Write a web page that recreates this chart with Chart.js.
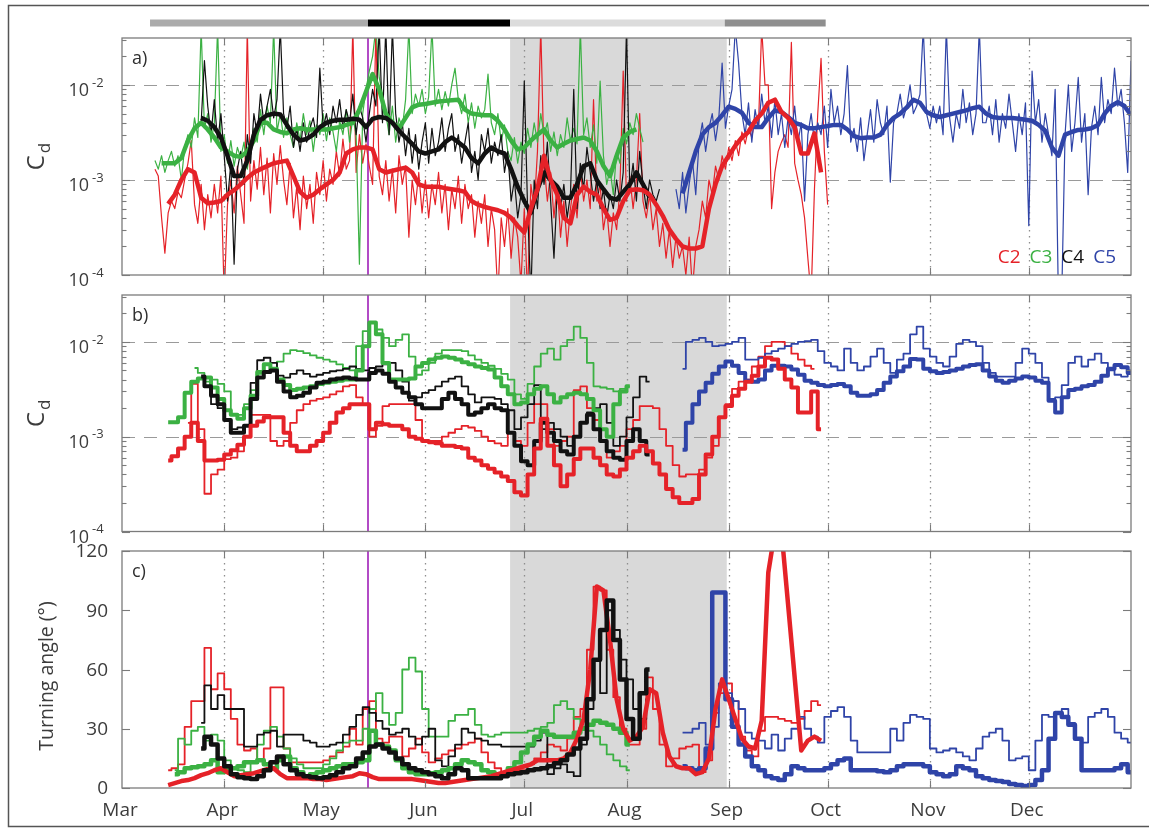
<!DOCTYPE html>
<html>
<head>
<meta charset="utf-8">
<title>Drag coefficient and turning angle, C2–C5</title>
<script src="https://cdn.jsdelivr.net/npm/chart.js@4.4.1/dist/chart.umd.min.js"></script>
<style>
  html, body { margin: 0; padding: 0; background: #ffffff; }
  #wrap { position: relative; width: 1149px; height: 828px; overflow: hidden; background: #ffffff; }
  #wrap canvas { position: absolute; left: 0; top: 0; }
</style>
</head>
<body>
<div id="wrap">
  <canvas id="panelA" width="1149" height="828"></canvas>
  <canvas id="panelB" width="1149" height="828"></canvas>
  <canvas id="panelC" width="1149" height="828"></canvas>
</div>
<script>
// ---------- calendar (x = days after 1 March) ----------
const monthNames = ['Mar', 'Apr', 'May', 'Jun', 'Jul', 'Aug', 'Sep', 'Oct', 'Nov', 'Dec'];
const monthStartDays = [0, 31, 61, 92, 122, 153, 184, 214, 245, 275];
const yearEndDay = 306;

// deployment periods shown as the bar above the panels
const periodBreakDays = [8.5, 74.6, 117.7, 182.8, 213.4];
const periodColors = ['#ababab', '#000000', '#dcdcdc', '#8f8f8f'];
// shaded interval and marker line
const shadedDays = [117.7, 183.4];
const markerDay = 74.6;

// axis ticks
const cdDecades = [-4, -3, -2];
const cdMax = 3.12e-2;
const angleTicks = [0, 30, 60, 90, 120];
const siteNames = ['C2', 'C3', 'C4', 'C5'];

// ---------- panel a: C_d (values in units of 1e-3) ----------
// thin lines: one value per day; thick lines: every second day
const A_C2_THIN = [1.3,1.1,0.4,0.17,0.45,0.6,0.5,0.75,0.65,1.0,
 1.5,2.6,0.55,0.35,0.9,0.3,0.7,0.4,0.9,0.45,
 1.1,0.06,0.55,1.0,0.45,1.4,0.7,0.35,40,0.6,
 1.6,0.8,2.2,0.7,1.7,0.45,1.9,0.9,2.3,1.0,
 0.55,1.5,0.4,0.85,0.3,1.1,0.5,0.9,0.35,1.2,
 0.7,1.6,0.6,1.3,0.9,2.0,1.1,2.7,1.3,1.6,
 40,1.2,3.0,1.5,2.4,1.4,0.9,40,1.1,0.7,
 1.6,0.6,1.3,0.45,1.8,0.9,1.4,0.25,1.0,0.55,
 1.2,0.45,1.0,0.4,0.9,0.55,1.2,0.45,0.9,0.3,
 0.8,0.5,1.1,0.35,0.9,0.5,0.7,0.25,0.6,0.35,
 0.7,0.2,0.5,0.3,0.06,0.4,0.2,0.5,0.15,0.4,
 0.25,0.08,0.5,0.06,0.9,0.5,2.0,40,1.5,0.6,
 1.2,0.4,0.9,0.25,0.6,0.2,0.5,0.9,0.4,1.3,
 0.6,1.0,0.5,7.0,0.6,0.9,0.3,0.5,0.2,0.45,
 0.3,0.8,14,0.6,1.1,0.5,1.0,5.0,0.6,0.4,
 0.7,0.3,0.5,0.2,0.35,0.15,0.3,0.12,0.25,0.15,
 0.2,0.1,0.25,0.07,0.2,0.3,0.6,0.4,1.0,0.7,
 1.4,1.0,1.8,1.3,2.2,1.6,2.6,1.8,3.2,2.4,
 3.5,2.8,4.5,3.5,40,10,10,0.5,1.2,2.0,
 2.5,3.0,2.2,28,1.5,1.0,0.7,0.4,0.15,0.06,
 0.8,5.0,19,2.0,0.55];
const A_C3_THIN = [1.6,1.3,1.8,1.2,1.6,2.0,1.4,1.8,1.0,2.2,
 3.0,2.2,4.5,2.8,40,3.5,5.0,2.5,4.0,40,
 2.0,3.0,1.5,2.6,1.4,2.2,1.7,2.5,1.3,2.4,
 3.5,2.5,5.5,3.0,6.0,4.0,40,3.2,5.0,2.8,
 4.5,3.0,2.2,4.0,2.6,5.0,3.0,4.2,2.0,3.8,
 3.0,5.0,2.6,4.5,3.2,2.0,4.2,3.0,5.5,2.5,
 4.5,3.0,0.13,5.0,9.0,14,20,40,12,8.0,
 5.0,3.0,6.0,2.5,4.5,3.5,7.0,40,5.0,8.0,
 6.0,9.0,5.0,7.5,40,6.0,9.0,5.5,8.5,6.0,
 10,15,7.0,5.0,8.0,4.0,6.5,3.5,6.0,4.5,
 5.5,13,4.0,3.0,5.0,2.5,3.8,2.0,1.6,2.8,
 1.5,2.5,1.9,3.5,2.2,4.0,2.5,5.0,3.0,4.0,
 2.0,3.2,1.8,3.0,2.2,4.5,2.6,3.5,2.4,40,
 3.0,4.5,2.2,3.8,1.5,11,1.8,0.9,1.3,0.7,
 2.0,1.5,3.5,2.4,4.0,3.0,5.0,3.5,2.5];
const A_C4_THIN = [4.0,18,6.0,3.0,7.0,2.5,5.0,1.8,0.6,1.5,
 0.13,1.3,2.0,0.9,3.0,1.5,5.0,3.0,8.0,4.0,
 6.0,9.0,4.5,7.0,40,5.0,3.5,6.0,2.2,3.5,
 2.0,4.0,2.5,3.5,4.5,2.8,15,3.5,5.0,3.0,
 6.0,4.0,7.0,3.5,5.5,4.0,8.0,3.0,6.0,4.5,
 2.5,5.0,9.0,6.0,40,4.0,40,3.0,40,5.0,
 2.5,4.0,1.8,3.5,1.5,3.0,1.3,2.5,4.0,1.5,
 3.5,1.8,2.5,4.5,2.0,3.5,5.0,2.0,3.0,1.5,
 2.5,4.0,1.2,2.0,1.0,3.0,2.0,3.5,1.5,2.5,
 1.8,3.0,1.2,2.0,0.6,1.0,0.4,0.7,11,0.5,
 0.06,1.0,0.5,1.8,0.9,2.5,0.6,0.15,0.8,0.5,
 0.9,0.4,0.7,9.0,0.5,1.5,0.8,2.2,1.2,0.6,
 1.0,0.5,0.8,0.4,0.7,0.5,1.0,0.6,1.2,40,
 0.8,1.5,0.6,2.0,0.9,0.5,1.0,0.7,0.6,0.8];
const A_C5_THIN = [0.8,0.5,1.2,0.45,0.9,1.6,0.7,2.5,4.0,2.0,
 3.5,5.0,2.6,4.5,17,3.5,6.0,9.0,40,17,
 5.0,3.0,6.5,2.5,5.5,3.5,8.0,4.0,6.0,2.8,
 7.0,3.0,5.0,2.2,4.5,3.0,6.0,2.5,4.0,0.6,
 3.0,5.0,2.5,4.0,3.0,6.0,2.2,9.0,4.0,6.0,
 3.0,5.0,16,2.5,3.5,2.0,4.5,1.6,3.0,5.5,
 2.5,7.0,4.0,3.0,6.0,0.95,4.0,5.0,8.0,4.5,
 6.0,10,5.0,6.0,8.0,40,5.0,3.5,6.0,4.0,
 6.0,3.0,40,4.5,2.5,5.0,3.5,9.0,4.0,6.5,
 3.0,5.0,40,4.0,4.0,6.0,3.0,7.0,2.5,5.0,
 3.5,8.0,4.0,2.0,5.0,3.0,6.5,0.33,14,4.0,
 7.0,2.5,5.0,3.0,1.8,9.0,0.05,0.06,3.0,10,
 2.0,4.0,12,2.5,5.0,0.7,3.5,6.0,3.0,12,
 4.0,7.0,5.0,15,6.0,9.0,4.0,1.2,18];
const A_C2_THICK = [0.56,0.7,1.0,1.3,1.2,0.65,0.57,0.58,0.6,0.7,
 0.78,0.9,1.05,1.2,1.3,1.4,1.5,1.55,1.6,1.1,
 0.75,0.65,0.7,0.8,0.9,1.0,1.2,1.9,2.1,2.2,
 2.2,2.1,1.3,1.2,1.25,1.3,1.35,1.2,0.9,0.85,
 0.85,0.85,0.82,0.8,0.78,0.75,0.6,0.55,0.52,0.5,
 0.48,0.45,0.4,0.33,0.28,0.5,0.8,1.8,1.0,0.7,
 0.4,0.35,0.7,0.85,0.75,0.7,0.5,0.38,0.4,0.6,
 0.78,0.8,0.78,0.7,0.55,0.42,0.3,0.24,0.2,0.19,
 0.19,0.2,0.5,0.9,1.4,1.8,2.3,2.8,3.2,4.2,
 5.0,6.5,7.0,5.2,4.5,3.6,1.9,1.9,3.1,1.2];
const A_C3_THICK = [1.5,1.5,1.5,1.7,2.6,3.5,4.0,3.4,2.8,2.2,
 2.0,1.8,1.75,2.0,2.6,4.0,4.0,3.4,3.2,3.1,
 3.4,3.5,3.4,3.4,3.4,3.4,3.5,3.6,3.8,4.0,
 5.5,8.5,13,9,5,4.0,3.5,4.5,5.8,6.2,
 6.3,6.5,6.7,6.8,6.9,7.0,5.5,5.0,4.9,4.8,
 4.8,4.2,3.4,2.6,2.1,2.2,2.6,3.0,3.4,2.6,
 2.2,2.4,2.6,2.7,2.8,2.6,2.0,1.4,1.1,1.8,
 2.8,3.2,3.4];
const A_C4_THICK = [4.5,4.2,3.6,2.8,1.8,1.1,1.1,1.6,3.0,4.3,
 4.8,5.0,4.9,3.8,3.0,2.6,2.7,3.0,3.6,4.0,
 4.2,4.3,4.3,4.4,4.3,3.6,4.4,4.6,4.5,4.0,
 3.3,2.8,2.4,2.0,1.9,2.0,2.1,2.5,2.8,2.5,
 2.2,1.7,1.5,1.9,2.2,2.0,1.9,1.3,0.85,0.6,
 0.45,0.8,1.2,1.0,0.85,0.65,0.65,0.9,1.4,1.5,
 1.0,0.8,0.65,0.62,0.75,0.9,1.2,0.9,0.66];
const A_C5_THICK = [0.72,1.2,2.0,3.0,3.6,4.0,4.8,5.9,5.6,5.1,
 4.0,3.6,3.6,4.5,5.4,5.2,4.6,4.0,3.8,3.5,
 3.5,3.6,3.7,3.8,3.8,3.4,2.9,2.75,2.8,2.8,
 3.0,3.8,4.5,5.0,5.8,7.0,6.5,5.2,4.8,4.6,
 4.8,5.0,5.2,5.4,5.7,5.9,5.0,4.6,4.5,4.5,
 4.5,4.4,4.3,4.2,3.8,3.3,2.2,1.8,3.0,3.2,
 3.36,3.4,3.5,3.8,5.0,6.0,6.6,6.0,4.8];

// ---------- panel b: C_d (units of 1e-3, every second day) ----------
const B_C2_THICK = [0.56,0.62,0.75,1.0,1.4,0.9,0.56,0.56,0.57,0.65,
 0.72,0.82,1.0,1.3,1.45,1.6,1.6,1.6,1.1,0.8,
 0.7,0.7,0.8,0.9,1.1,1.4,1.8,2.0,2.2,2.2,
 2.2,1.2,1.4,1.35,1.3,1.3,1.2,1.0,0.95,0.9,
 0.88,0.85,0.8,0.8,0.78,0.75,0.6,0.56,0.5,0.46,
 0.42,0.38,0.34,0.26,0.24,0.4,0.75,1.55,0.8,0.5,
 0.3,0.4,0.58,0.75,0.75,0.6,0.5,0.4,0.38,0.45,
 0.6,0.7,0.8,0.7,0.52,0.4,0.28,0.23,0.2,0.2,
 0.22,0.4,0.65,1.0,1.6,2.1,2.7,3.2,3.8,4.4,
 5.5,6.8,6.5,5.2,4.0,3.3,1.8,1.8,3.0,1.2];
const B_C2_THIN = [1.4,3.6,1.2,0.25,0.4,0.45,0.58,0.6,0.7,1.0,
 1.7,1.7,1.7,0.9,0.8,0.9,1.4,1.9,2.2,2.4,
 2.5,2.6,2.8,3.0,3.4,3.5,2.6,2.2,1.0,1.3,
 2.1,2.2,2.2,2.2,2.2,1.5,0.9,0.85,0.9,1.0,
 1.1,1.2,1.3,1.25,1.15,1.0,0.9,0.85,0.8,1.1,
 0.9,0.8,1.4,2.2,2.2,1.2,0.8,0.9,1.0,3.1,
 3.4,2.0,1.5,0.9,0.6,0.7,0.8,1.2,1.5,2.1,
 2.1,2.0,1.2,0.8,0.5,0.38,0.4,0.4,0.45,0.6,
 0.8,1.6,2.2,3.2,3.8,4.0,5.5,7.0,9.0,10,
 10,9,7.5,6.5,5.6,5.2];
const B_C3_THICK = [1.42,1.42,1.6,2.9,3.8,4.1,4.2,3.3,2.5,1.9,
 1.7,1.55,2.0,2.7,4.8,5.8,5.2,4.0,3.5,3.1,
 3.2,3.3,3.4,3.6,3.7,3.8,3.9,4.0,4.0,5.0,
 9.0,16,12,6.0,4.0,4.0,4.0,4.1,5.5,6.0,
 6.5,6.8,7.0,6.8,6.5,6.1,5.8,5.5,5.3,5.1,
 4.2,3.4,2.8,2.2,2.3,2.8,3.2,3.4,2.8,2.3,
 2.6,2.8,2.9,2.8,2.5,1.9,1.2,1.0,2.2,3.0,
 3.4];
const B_C3_THIN = [5.3,4.7,3.8,4.0,3.6,3.0,1.7,1.7,2.2,3.1,
 4.6,4.8,5.2,6.2,7.5,8.2,8.0,7.6,7.2,6.8,
 6.5,6.2,5.8,5.3,5.0,9.0,13,16,13.5,11,
 9,10.5,12,7,4.5,5.0,6.0,7.5,8.2,8.2,
 8.2,8.0,7.2,6.5,6.0,5.6,5.2,4.6,4.0,2.8,
 2.5,3.6,5.5,7.5,8.5,6.5,9,10.5,14.5,11,
 6,3.4,3.3,3.2,3.0,3.2,3.4];
const B_C4_THICK = [4.3,3.4,2.7,2.2,1.5,1.1,1.1,1.3,2.5,4.2,
 4.8,5.0,3.8,3.0,2.6,2.7,2.9,3.3,3.7,3.8,
 4.0,4.1,4.2,4.1,4.0,4.0,4.7,5.0,4.6,3.8,
 3.3,2.9,2.6,2.2,2.0,2.0,2.0,2.5,2.9,2.5,
 2.2,1.7,1.8,2.0,2.2,2.0,1.9,1.1,0.8,0.55,
 0.5,0.9,1.4,1.1,0.9,0.7,0.65,1.0,1.4,1.7,
 1.2,0.9,0.7,0.6,0.57,0.9,1.2,0.9,0.65];
const B_C4_THIN = [4.2,2.2,2.0,1.5,1.2,1.25,1.3,3.7,6.4,6.8,
 6.0,4.4,4.2,4.6,5.0,4.6,4.3,4.5,4.7,4.9,
 5.0,5.2,5.5,5.2,5.0,5.3,5.5,5.8,6.0,5.0,
 3.8,2.4,2.6,2.9,3.1,3.4,3.8,4.1,4.3,3.4,
 2.8,2.3,2.6,2.6,2.5,2.2,1.9,1.2,1.6,2.2,
 3.5,1.2,1.4,1.2,1.0,0.8,1.0,1.4,1.8,2.0,
 2.2,1.4,0.8,1.0,1.6,2.6,4.3,3.8];
const B_C5_THICK = [0.73,1.4,2.2,3.0,3.7,4.6,5.5,6.2,5.6,4.7,
 3.9,3.8,4.0,5.0,5.6,5.6,5.5,5.1,4.5,3.9,
 3.7,3.5,3.4,3.5,3.6,3.4,2.9,2.7,2.7,2.8,
 3.1,3.7,4.3,4.9,5.5,6.6,6.5,5.2,4.9,4.7,
 4.8,5.0,5.2,5.5,5.7,5.8,5.0,4.3,3.9,3.7,
 3.9,4.1,4.3,4.2,3.9,3.7,2.4,1.8,2.6,3.1,
 3.2,3.4,3.5,3.8,4.4,5.2,5.7,5.4,4.7];
const B_C5_THIN = [5.2,10,10.5,11,10,9,9.2,9.5,10,11,
 6.5,6.5,6.8,7.5,8.0,8.5,9,9.5,10,10.2,
 10.5,8,6,5.5,5.0,8.5,6,5,5.5,7,
 8.5,6,4.7,6.5,7.5,12,14.5,8.5,7,6,
 5.5,7,9.5,10.5,10,9,6,4.7,4.3,4.3,
 4.3,6,8.5,7.5,6,4.2,2.5,2.6,3.5,6,
 7,5.5,6.5,7.5,6,5,4.5,4.3,5];

// ---------- panel c: turning angle in degrees (every second day) ----------
const C_C2_THICK = [1.5,2.5,3.5,4,5,6.5,7.5,9,10,8,
 6,6.5,7,7.5,8.5,9.5,10,7,5,5,
 5,5,4.5,4.5,4,4.5,5,5.5,6,7.5,
 7,5.5,4.5,4.5,4.5,4.5,4.5,4.5,4,3.5,
 3,2.5,2.5,3,3.5,4,4.5,5,5.5,6,
 7,8,9,10,11,12,14,14,14,14,
 15,18,25,35,60,102,100,75,45,30,
 24,26,31,50,48,28,16,11,10,10,
 7,8,15,40,55,45,35,25,21,20,
 34,109,130,130,null,null,19,24,26,24];
const C_C2_THIN = [9,10,12,31,44,44,71,50,58,50,
 35,22,19,20,14,20,51,51,20,13,
 13,13,13,13,14,16,18,21,30,22,
 40,44,25,23,26,26,16,20,25,18,
 13,15,17,19,20,22,23,25,18,13,
 10,7,8,9,9,12,15,18,22,21,
 19,25,36,40,70,102,100,70,46,30,
 22,22,30,56,40,22,11,15,20,21,
 22,8,14,38,48,53,44,26,19,16,
 29,36,36,35,34,33,35,39,44,42];
const C_C3_THICK = [7,8,10,10.5,11,12,14,8,9,10,
 11,13,13,14,12,10,14,16,10,8,
 6,7,8,9,10,11,12,12,13,14,
 29,22,21,19,14,10,8,7,7,7.5,
 8,9,10,12,14,13,12,9,8,7,
 7,10,13,18,22,26,29,27,26,26,
 26,28,30,32,34,33,32,30,28,22];
const C_C3_THIN = [9,25,22,29,31,24,27,24,14,10,
 9,8,13,22,29,31,26,20,15,12,
 10,10,10,12,15,19,23,24,24,30,
 40,48,38,32,38,60,66,59,40,26,
 26,26,34,37,37,40,32,27,26,27,
 28,28,28,28,29,30,31,33,42,44,
 40,35,31,29,26,22,17,14,11,9];
const C_C4_THICK = [20,26,22,15,11,7,5.5,5,4.5,6,
 9,13,16,12,9,7,6,5.5,5,5.5,
 6.5,8,10,11,15,18,21,22,20,18,
 15,12,10,9,8,7,6,5,7,10,
 9,5,5,5,5,5,6,7,7.5,8,
 9,9.5,10,11,12.5,14,17,20,25,45,
 65,80,95,75,55,35,25,48,60];
const C_C4_THIN = [33,52,40,47,40,40,40,21,21,27,
 28,29,21,27,27,27,24,23,21,21,
 22,23,27,31,37,41,38,34,30,27,
 28,30,26,22,26,30,14,11,16,22,
 30,28,25,24,22,22,21,21,21,21,
 21,24,28,7,10,12,8,6,22,40,
 65,48,90,80,65,55,40,35,45];
const C_C5_THICK = [11,10,9,10,20,99,99,45,31,22,
 16,11,9,6,5,4,7,11,10,9,
 9,9,10,12,14,15,9,9,9,9,
 8.5,8,9,11,12,12,12,11,8,7,
 6,7,11,10,9,6,5,4,3.5,3,
 2,1.5,1,1.5,4,9,25,38,36,32,
 25,9,9,9,9,9,10,12,8];
const C_C5_THIN = [28,28,30,33,22,31,53,48,44,40,
 28,25,24,20,27,19,25,30,36,30,
 26,23,36,39,41,36,24,18,18,18,
 18,18,30,24,33,37,36,35,20,18,
 19,20,18,16,14,20,26,28,30,24,
 14,15,16,9,24,37,36,38,40,33,
 25,23,36,38,40,36,28,25,23];

// ---------- styling ----------
const FONT = '"Open Sans", "Noto Sans", "DejaVu Sans", sans-serif';
const TEXT_COLOR = '#3c3c3c';
const SITE_COLORS = { C2: '#e52228', C3: '#3bb143', C4: '#111111', C5: '#2f44a8' };
const FRAME_COLOR = '#7b7b7b';

// turns a value list with a first day and spacing into chart points
function toPoints(values, firstDay, stepDays, unit) {
  return values.map((v, i) => ({ x: firstDay + i * stepDays, y: v === null ? null : v * unit }));
}

// running-window series (panels b, c) are drawn as steps
function lineSet(values, firstDay, stepDays, unit, site, width, stepped) {
  return {
    label: site,
    data: toPoints(values, firstDay, stepDays, unit),
    borderColor: SITE_COLORS[site],
    borderWidth: width,
    pointRadius: 0,
    tension: 0,
    fill: false,
    spanGaps: true,
    stepped: stepped ? 'middle' : false,
    clip: 0,
    borderJoinStyle: 'round',
    borderCapStyle: 'butt'
  };
}

function strokeLine(ctx, x1, y1, x2, y2) {
  ctx.beginPath(); ctx.moveTo(x1, y1); ctx.lineTo(x2, y2); ctx.stroke();
}

// frame, grid, shading, ticks and annotation text for each panel
const panelDecor = {
  id: 'panelDecor',
  beforeDatasetsDraw(chart, args, o) {
    const { ctx, chartArea: a, scales: { x, y } } = chart;
    ctx.save();
    const s0 = x.getPixelForValue(shadedDays[0]);
    const s1 = x.getPixelForValue(shadedDays[1]);
    ctx.fillStyle = '#d9d9d9';
    ctx.fillRect(s0, a.top, s1 - s0, a.bottom - a.top);

    ctx.strokeStyle = '#8e8e8e';
    ctx.lineWidth = 1.3;
    ctx.setLineDash([1.4, 4.6]);
    monthStartDays.slice(1).forEach(d => {
      const px = Math.round(x.getPixelForValue(d)) + 0.5;
      strokeLine(ctx, px, a.top, px, a.bottom);
    });

    if (o.log) {
      ctx.strokeStyle = '#9a9a9a';
      ctx.lineWidth = 1.2;
      ctx.setLineDash([13, 9]);
      [1e-3, 1e-2].forEach(v => {
        const py = Math.round(y.getPixelForValue(v)) + 0.5;
        strokeLine(ctx, a.left, py, a.right, py);
      });
    }
    ctx.setLineDash([]);
    ctx.strokeStyle = '#b24bc6';
    ctx.lineWidth = 2;
    const mx = x.getPixelForValue(markerDay);
    strokeLine(ctx, mx, a.top, mx, a.bottom);
    ctx.restore();
  },
  afterDatasetsDraw(chart, args, o) {
    const { ctx, chartArea: a, scales: { x, y } } = chart;
    ctx.save();
    ctx.strokeStyle = FRAME_COLOR;
    ctx.lineWidth = 1.3;
    ctx.strokeRect(a.left, a.top, a.right - a.left, a.bottom - a.top);

    // month ticks on top and bottom edges
    ctx.lineWidth = 1.1;
    monthStartDays.slice(1).forEach(d => {
      const px = Math.round(x.getPixelForValue(d)) + 0.5;
      strokeLine(ctx, px, a.top, px, a.top + 7);
      strokeLine(ctx, px, a.bottom, px, a.bottom - 7);
    });

    ctx.fillStyle = TEXT_COLOR;
    if (o.log) {
      cdDecades.forEach(e => {
        for (let m = 1; m <= 9; m++) {
          const v = m * Math.pow(10, e);
          if (v > cdMax) break;
          const py = Math.round(y.getPixelForValue(v)) + 0.5;
          const len = m === 1 ? 8 : 4.5;
          strokeLine(ctx, a.left, py, a.left + len, py);
          strokeLine(ctx, a.right, py, a.right - len, py);
        }
        const py = y.getPixelForValue(Math.pow(10, e));
        ctx.font = '18px ' + FONT;
        ctx.textAlign = 'right';
        ctx.textBaseline = 'middle';
        ctx.fillText('10', 89, py + 6);
        ctx.font = '13px ' + FONT;
        ctx.textAlign = 'left';
        ctx.fillText('-' + (-e), 92, py - 2);
      });
      // C_d axis title
      const cy = (a.top + a.bottom) / 2;
      ctx.save();
      ctx.translate(37, cy);
      ctx.rotate(-Math.PI / 2);
      ctx.font = '24px ' + FONT;
      const wC = ctx.measureText('C').width;
      ctx.font = '17px ' + FONT;
      const wd = ctx.measureText('d').width;
      const start = -(wC + wd + 2) / 2;
      ctx.textAlign = 'left';
      ctx.textBaseline = 'middle';
      ctx.font = '24px ' + FONT;
      ctx.fillText('C', start, 0);
      ctx.font = '17px ' + FONT;
      ctx.fillText('d', start + wC + 2, 8);
      ctx.restore();
    } else {
      angleTicks.forEach(t => {
        const py = Math.round(y.getPixelForValue(t)) + 0.5;
        strokeLine(ctx, a.left, py, a.left + 8, py);
        strokeLine(ctx, a.right, py, a.right - 8, py);
        ctx.font = '19px ' + FONT;
        ctx.textAlign = 'right';
        ctx.textBaseline = 'middle';
        ctx.fillText(String(t), 108, y.getPixelForValue(t) + 1);
      });
      ctx.font = '19px ' + FONT;
      ctx.textAlign = 'center';
      ctx.textBaseline = 'middle';
      monthStartDays.forEach((d, i) => {
        ctx.fillText(monthNames[i], x.getPixelForValue(d) - 2, 811);
      });
      ctx.save();
      ctx.translate(47, 676);
      ctx.rotate(-Math.PI / 2);
      ctx.font = '19.5px ' + FONT;
      ctx.fillText('Turning angle (°)', 0, 0);
      ctx.restore();
    }

    // panel letter
    ctx.font = '18px ' + FONT;
    ctx.textAlign = 'left';
    ctx.textBaseline = 'middle';
    ctx.fillStyle = '#2f2f2f';
    ctx.fillText(o.letter, a.left + 10, a.top + 21);

    if (o.legend) {
      ctx.font = '19px ' + FONT;
      ctx.textBaseline = 'middle';
      ctx.textAlign = 'left';
      const gap = 9;
      const widths = siteNames.map(s => ctx.measureText(s).width);
      let total = widths.reduce((p, w) => p + w, 0) + gap * (siteNames.length - 1);
      let px = 1116 - total;
      siteNames.forEach((s, i) => {
        ctx.fillStyle = SITE_COLORS[s];
        ctx.fillText(s, px, 258);
        px += widths[i] + gap;
      });
    }

    if (o.page) {
      // outer frame and the period bar above the panels
      ctx.strokeStyle = '#555555';
      ctx.lineWidth = 1.5;
      ctx.strokeRect(8.5, 5.5, 1160, 821);
      for (let i = 0; i < periodColors.length; i++) {
        const p0 = x.getPixelForValue(periodBreakDays[i]);
        const p1 = x.getPixelForValue(periodBreakDays[i + 1]);
        ctx.fillStyle = periodColors[i];
        ctx.fillRect(p0, 19.5, p1 - p0, 7);
      }
    }
    ctx.restore();
  }
};

function buildPanel(canvasId, padding, yScale, datasets, decor) {
  datasets.forEach((d, i) => { d.order = datasets.length - i; });
  return new Chart(document.getElementById(canvasId), {
    type: 'line',
    data: { datasets },
    options: {
      responsive: false,
      animation: false,
      devicePixelRatio: 1,
      events: [],
      layout: { padding },
      scales: {
        x: { type: 'linear', min: 0, max: yearEndDay, display: false },
        y: Object.assign({ display: false }, yScale)
      },
      plugins: { legend: { display: false }, tooltip: { enabled: false }, panelDecor: decor }
    },
    plugins: [panelDecor]
  });
}

const CD = 1e-3;
const DEG = 1;

buildPanel('panelA', { left: 122, top: 38, right: 18, bottom: 553 },
  { type: 'logarithmic', min: 1e-4, max: cdMax },
  [
    lineSet(A_C2_THIN, 10, 1, CD, 'C2', 1.2, false),
    lineSet(A_C3_THIN, 10, 1, CD, 'C3', 1.2, false),
    lineSet(A_C4_THIN, 24, 1, CD, 'C4', 1.2, false),
    lineSet(A_C5_THIN, 168, 1, CD, 'C5', 1.2, false),
    lineSet(A_C3_THICK, 12, 2, CD, 'C3', 4.5, false),
    lineSet(A_C4_THICK, 24, 2, CD, 'C4', 4.5, false),
    lineSet(A_C5_THICK, 170, 2, CD, 'C5', 4.5, false),
    lineSet(A_C2_THICK, 14, 2, CD, 'C2', 4.5, false)
  ],
  { log: true, letter: 'a)', legend: true, page: true });

buildPanel('panelB', { left: 122, top: 295, right: 18, bottom: 296.5 },
  { type: 'logarithmic', min: 1e-4, max: cdMax },
  [
    lineSet(B_C2_THIN, 20, 2, CD, 'C2', 1.8, true),
    lineSet(B_C3_THIN, 22, 2, CD, 'C3', 1.8, true),
    lineSet(B_C4_THIN, 26, 2, CD, 'C4', 1.8, true),
    lineSet(B_C5_THIN, 170, 2, CD, 'C5', 1.8, true),
    lineSet(B_C3_THICK, 14, 2, CD, 'C3', 4, true),
    lineSet(B_C4_THICK, 24, 2, CD, 'C4', 4, true),
    lineSet(B_C5_THICK, 170, 2, CD, 'C5', 4, true),
    lineSet(B_C2_THICK, 14, 2, CD, 'C2', 4, true)
  ],
  { log: true, letter: 'b)' });

buildPanel('panelC', { left: 122, top: 551, right: 18, bottom: 40 },
  { type: 'linear', min: 0, max: 120 },
  [
    lineSet(C_C2_THIN, 14, 2, DEG, 'C2', 1.8, true),
    lineSet(C_C3_THIN, 16, 2, DEG, 'C3', 1.8, true),
    lineSet(C_C4_THIN, 24, 2, DEG, 'C4', 1.8, true),
    lineSet(C_C5_THIN, 170, 2, DEG, 'C5', 1.8, true),
    lineSet(C_C3_THICK, 16, 2, DEG, 'C3', 4.5, true),
    lineSet(C_C5_THICK, 170, 2, DEG, 'C5', 4.5, true),
    lineSet(C_C2_THICK, 14, 2, DEG, 'C2', 4.5, false),
    lineSet(C_C4_THICK, 24, 2, DEG, 'C4', 4.5, true)
  ],
  { log: false, letter: 'c)' });
</script>
</body>
</html>
